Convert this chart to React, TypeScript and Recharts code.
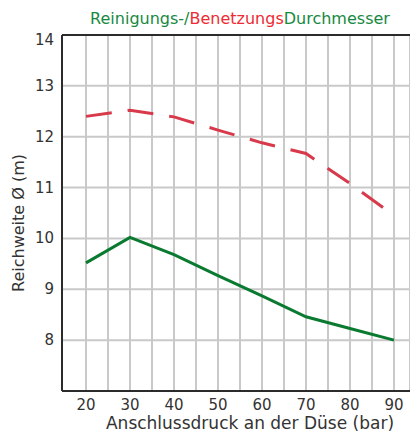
import React from "react"
import {
  LineChart,
  Line,
  XAxis,
  YAxis,
  CartesianGrid,
  ReferenceLine,
} from "recharts"

const pressures = [20, 30, 40, 50, 60, 70, 80, 90]
const reinigung = [9.52, 10.02, 9.68, 9.27, 8.87, 8.46, 8.23, 8.0]
const benetzung = [12.4, 12.52, 12.39, 12.13, 11.88, 11.67, 11.08, 10.45]
const xTicks = [20, 25, 30, 35, 40, 45, 50, 55, 60, 65, 70, 75, 80, 85, 90]
const yTicks = [7, 8, 9, 10, 11, 12, 13, 14]

const data = pressures.map((p, i) => ({
  p,
  reinigung: reinigung[i],
  benetzung: benetzung[i],
}))

const FONT = "'DejaVu Sans', Verdana, sans-serif"

const YTick = (props: any) => {
  const { x, y, payload } = props
  if (payload.value === 7) return null
  const dy = payload.value === 14 ? 10 : 5
  return (
    <text x={x} y={y + dy} textAnchor="end" fontSize={15} fill="#333" fontFamily={FONT}>
      {payload.value}
    </text>
  )
}

const XTick = (props: any) => {
  const { x, y, payload } = props
  if (payload.value % 10 !== 0) return null
  return (
    <text x={x} y={y + 11} textAnchor="middle" fontSize={15} fill="#333" fontFamily={FONT}>
      {payload.value}
    </text>
  )
}

export default function App() {
  return (
    <div style={{ position: "relative", width: 410, height: 432, fontFamily: FONT, overflow: "hidden" }}>
      <style>{"html,body{margin:0;padding:0;overflow:hidden}"}</style>
      <div
        style={{
          position: "absolute",
          top: 10,
          left: 0,
          width: 480,
          textAlign: "center",
          fontSize: 16,
          lineHeight: "18px",
          color: "#17893f",
          whiteSpace: "nowrap",
        }}
      >
        Reinigungs-/<span style={{ color: "#ee2b33" }}>Benetzungs</span>Durchmesser
      </div>
      <LineChart
        width={410}
        height={432}
        data={data}
        margin={{ top: 35, right: 0, bottom: 0, left: 0 }}
      >
        <CartesianGrid stroke="#c9c9c9" strokeWidth={2} />
        <XAxis
          dataKey="p"
          type="number"
          domain={[14.545, 93.64]}
          allowDataOverflow
          ticks={xTicks}
          tick={<XTick />}
          tickLine={false}
          axisLine={{ stroke: "#2b2b2b", strokeWidth: 2 }}
          height={41}
        />
        <YAxis
          type="number"
          domain={[7, 14]}
          ticks={yTicks}
          tick={<YTick />}
          tickLine={false}
          axisLine={{ stroke: "#2b2b2b", strokeWidth: 2 }}
          width={62}
        />
        <ReferenceLine y={14} stroke="#2b2b2b" strokeWidth={2} />
        <Line
          dataKey="benetzung"
          stroke="#d8394b"
          strokeWidth={3}
          strokeDasharray="26 16"
          dot={false}
          isAnimationActive={false}
        />
        <Line
          dataKey="reinigung"
          stroke="#0b7a31"
          strokeWidth={3}
          dot={false}
          isAnimationActive={false}
        />
      </LineChart>
      <div
        style={{
          position: "absolute",
          top: 414,
          left: 250,
          transform: "translateX(-50%)",
          fontSize: 17,
          lineHeight: "18px",
          color: "#333",
          whiteSpace: "nowrap",
        }}
      >
        Anschlussdruck an der Düse (bar)
      </div>
      <div
        style={{
          position: "absolute",
          top: 223,
          left: 19,
          transform: "translate(-50%, -50%) rotate(-90deg)",
          fontSize: 16,
          lineHeight: "18px",
          color: "#333",
          whiteSpace: "nowrap",
        }}
      >
        Reichweite Ø (m)
      </div>
    </div>
  )
}
